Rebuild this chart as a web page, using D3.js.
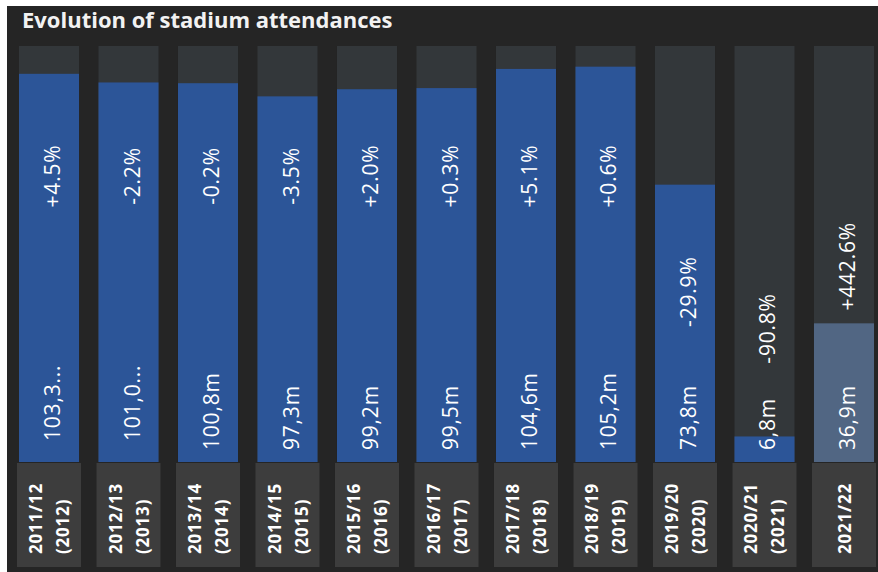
<!DOCTYPE html>
<html>
<head>
<meta charset="utf-8">
<script src="https://cdn.jsdelivr.net/npm/d3@7"></script>
<style>
  html, body { margin: 0; padding: 0; background: #ffffff; }
  svg { display: block; }
</style>
</head>
<body>
<svg id="chart" width="878" height="572"></svg>
<script>
// Seasons (with the calendar year in brackets where one applies)
const seasons   = ["2011/12", "2012/13", "2013/14", "2014/15", "2015/16", "2016/17", "2017/18", "2018/19", "2019/20", "2020/21", "2021/22"];
const years     = ["(2012)", "(2013)", "(2014)", "(2015)", "(2016)", "(2017)", "(2018)", "(2019)", "(2020)", "(2021)", ""];
// Stadium attendance, millions
const attendance = [103.3, 101.0, 100.8, 97.3, 99.2, 99.5, 104.6, 105.2, 73.8, 6.8, 36.9];
// Change against the previous season, %
const change     = [4.5, -2.2, -0.2, -3.5, 2.0, 0.3, 5.1, 0.6, -29.9, -90.8, 442.6];
// Labels shown shortened with an ellipsis
const shortened  = [true, true, false, false, false, false, false, false, false, false, false];
// Highlighted (latest) season
const highlight  = [false, false, false, false, false, false, false, false, false, false, true];
const title = "Evolution of stadium attendances";

const W = 878, H = 572;
const svg = d3.select("#chart");

// dark panel
svg.append("rect").attr("x", 7).attr("y", 6).attr("width", W - 7).attr("height", H - 6)
  .attr("fill", "#252525");

svg.append("text")
  .attr("x", 22).attr("y", 28)
  .attr("font-family", "'Open Sans', 'Segoe UI', sans-serif")
  .attr("font-weight", 700).attr("font-size", 22)
  .attr("fill", "#f2f2f2")
  .text(title);

const data = seasons.map((s, i) => ({
  season: s, year: years[i], value: attendance[i], change: change[i],
  short: shortened[i], hi: highlight[i]
}));

const x = d3.scaleBand().domain(seasons).range([19, 874]).paddingInner(0.245).paddingOuter(0);
const y = d3.scaleLinear().domain([0, 110.7]).range([462, 46]);

const locale = d3.formatLocale({ decimal: ",", thousands: ".", grouping: [3], currency: ["", ""], minus: "-" });
const fmtNum = locale.format(".1f");
const fmtPct = d3.formatLocale({ decimal: ".", thousands: ",", grouping: [3], currency: ["", ""], minus: "-" }).format("+.1f");

const col = svg.append("g").selectAll("g").data(data).join("g")
  .attr("transform", d => `translate(${x(d.season)},0)`);

const bw = x.bandwidth();

// column background
col.append("rect")
  .attr("x", 0).attr("y", y(110.7)).attr("width", bw).attr("height", y(0) - y(110.7))
  .attr("fill", "#33373a");

// attendance bar
col.append("rect")
  .attr("x", 0).attr("y", d => y(d.value)).attr("width", bw).attr("height", d => y(0) - y(d.value))
  .attr("fill", d => d.hi ? "#516683" : "#2c5598");

// category box
col.append("rect")
  .attr("x", -2).attr("y", 463).attr("width", bw + 4).attr("height", 104)
  .attr("fill", "#3d3d3d");

const labelFont = "'Open Sans', 'Segoe UI', sans-serif";
const cx = bw / 2;

// value label, reading upward from the base
col.append("text")
  .attr("transform", d => `translate(${cx + 11},${d.short ? 441 : 450}) rotate(-90)`)
  .attr("font-family", labelFont).attr("font-size", 21)
  .attr("letter-spacing", 0.8)
  .attr("fill", "#ffffff")
  .text(d => {
    const t = fmtNum(d.value) + "m";
    return d.short ? t.slice(0, 5) + "..." : t;
  });

// change label, centred vertically
function changeY(d) {
  const top = y(d.value);
  if (d.value > 90) return 176;
  if (d.value > 50) return top + 107;
  if (d.value > 20) return top - 57;
  return top - 108;
}
col.append("text")
  .attr("transform", d => `translate(${cx + 11},${changeY(d)}) rotate(-90)`)
  .attr("text-anchor", "middle")
  .attr("font-family", labelFont).attr("font-size", 21)
  .attr("letter-spacing", 0.8)
  .attr("fill", "#ffffff")
  .text(d => fmtPct(d.change) + "%");

// season labels
col.append("text")
  .attr("font-family", labelFont).attr("font-weight", 700).attr("font-size", 17)
  .attr("letter-spacing", 0.8)
  .attr("fill", "#ffffff")
  .each(function(d) {
    const t = d3.select(this);
    t.append("tspan").attr("x", 0).attr("y", 0).text(d.season);
    if (d.year) {
      t.append("tspan").attr("x", 0).attr("y", 27).text(d.year);
      t.attr("transform", `translate(${cx - 7},554) rotate(-90)`);
    } else {
      t.attr("transform", `translate(${cx + 7},554) rotate(-90)`);
    }
  });
</script>
</body>
</html>
